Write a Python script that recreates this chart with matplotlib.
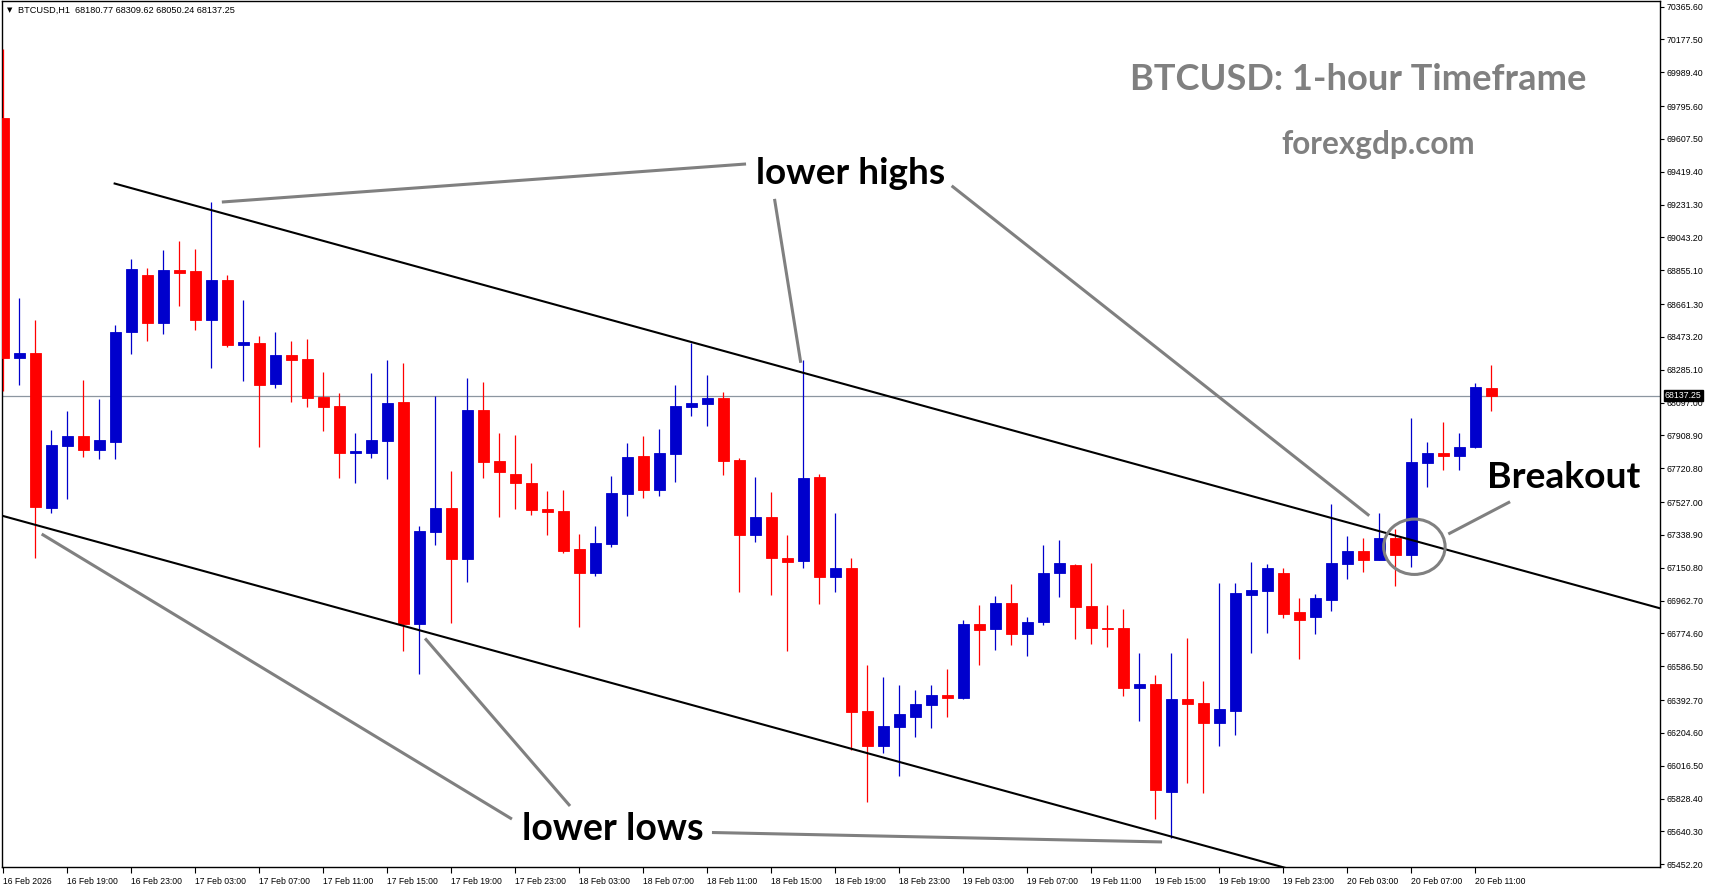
import matplotlib
matplotlib.use('Agg')
import matplotlib.pyplot as plt
import matplotlib.transforms as mtransforms
from matplotlib.patches import Ellipse

# hourly BTCUSD bars, 16 Feb 15:00 .. 20 Feb 12:00
opens = [69727, 68354, 68381, 67495, 67850, 67905, 67827, 67873, 68501, 68828,
         68555, 68856, 68851, 68572, 68799, 68429, 68438, 68205, 68369, 68346,
         68129, 68077, 67810, 67810, 67879, 68100, 66830, 67357, 67493, 67203,
         68054, 67762, 67688, 67636, 67487, 67476, 67258, 67122, 67289, 67575,
         67791, 67598, 67804, 68073, 68091, 68123, 67768, 67340, 67441, 67206,
         67191, 67670, 67099, 67149, 66330, 66129, 66240, 66297, 66366, 66422,
         66406, 66828, 66802, 66949, 66773, 66842, 67123, 67167, 66932, 66807,
         66807, 66464, 66485, 65868, 66399, 66376, 66263, 66332, 66996, 67019,
         67120, 66897, 66870, 66968, 67174, 67247, 67197, 67321, 67226, 67753,
         67808, 67793, 67842, 68180.77]
highs = [70123, 68696, 68570, 67940, 68049, 68226, 68119, 68541, 68919, 68868,
         68971, 69023, 68977, 69246, 68828, 68685, 68478, 68501, 68450, 68461,
         68272, 68152, 67922, 68266, 68341, 68324, 67390, 68136, 67705, 68236,
         68217, 67923, 67911, 67751, 67590, 67596, 67344, 67390, 67676, 67865,
         67905, 67946, 68198, 68436, 68255, 68158, 67779, 67670, 67585, 67338,
         68341, 67686, 67466, 67205, 66593, 66525, 66479, 66450, 66479, 66571,
         66851, 66937, 66989, 67058, 66868, 67281, 67310, 67175, 67178, 66937,
         66914, 66662, 66536, 66662, 66748, 66502, 67063, 67063, 67184, 67172,
         67149, 66977, 67002, 67516, 67333, 67321, 67464, 67373, 68009, 67871,
         67986, 67923, 68209, 68309.62]
lows = [68165, 68199, 67208, 67462, 67546, 67783, 67772, 67772, 68377, 68452,
        68492, 68652, 68515, 68297, 68417, 68222, 67844, 68182, 68102, 68073,
        67936, 67667, 67638, 67781, 67661, 66675, 66543, 67283, 66836, 67071,
        67667, 67443, 67487, 67453, 67340, 67237, 66813, 67105, 67271, 67449,
        67552, 67564, 67644, 68022, 67965, 67684, 67013, 67300, 66996, 66675,
        67151, 66945, 67013, 66106, 65810, 66091, 65959, 66183, 66234, 66297,
        66399, 66595, 66681, 66710, 66647, 66825, 66985, 66744, 66716, 66699,
        66418, 66275, 65713, 65600, 65919, 65862, 66131, 66194, 66664, 66779,
        66865, 66626, 66773, 66905, 67088, 67128, 67197, 67048, 67157, 67615,
        67713, 67713, 67837, 68050.24]
closes = [68354, 68381, 67500, 67854, 67905, 67827, 67882, 68501, 68862, 68555,
          68856, 68841, 68572, 68799, 68429, 68444, 68199, 68369, 68341, 68125,
          68073, 67810, 67819, 67882, 68094, 66830, 67361, 67493, 67203, 68054,
          67758, 67701, 67638, 67481, 67472, 67248, 67122, 67292, 67579, 67785,
          67598, 67808, 68077, 68094, 68123, 67764, 67340, 67441, 67208, 67185,
          67665, 67099, 67149, 66326, 66129, 66244, 66313, 66370, 66422, 66406,
          66828, 66796, 66949, 66773, 66840, 67121, 67178, 66928, 66807, 66801,
          66464, 66485, 65879, 66399, 66372, 66263, 66341, 67006, 67023, 67149,
          66888, 66853, 66977, 67180, 67247, 67197, 67321, 67226, 67757, 67808,
          67793, 67842, 68186, 68137.25]

date_label_bars = [0, 4, 8, 12, 16, 20, 24, 28, 32, 36, 40, 44, 48, 52, 56, 60,
                   64, 68, 72, 76, 80, 84, 88, 92]
date_labels = ['16 Feb 2026', '16 Feb 19:00', '16 Feb 23:00', '17 Feb 03:00',
               '17 Feb 07:00', '17 Feb 11:00', '17 Feb 15:00', '17 Feb 19:00',
               '17 Feb 23:00', '18 Feb 03:00', '18 Feb 07:00', '18 Feb 11:00',
               '18 Feb 15:00', '18 Feb 19:00', '18 Feb 23:00', '19 Feb 03:00',
               '19 Feb 07:00', '19 Feb 11:00', '19 Feb 15:00', '19 Feb 19:00',
               '19 Feb 23:00', '20 Feb 03:00', '20 Feb 07:00', '20 Feb 11:00']

price_ticks = [70365.60, 70177.50, 69989.40, 69795.60, 69607.50, 69419.40,
               69231.30, 69043.20, 68855.10, 68661.30, 68473.20, 68285.10,
               68097.00, 67908.90, 67720.80, 67527.00, 67338.90, 67150.80,
               66962.70, 66774.60, 66586.50, 66392.70, 66204.60, 66016.50,
               65828.40, 65640.30, 65452.20]
last_price = 68137.25
header = 'BTCUSD,H1  68180.77 68309.62 68050.24 68137.25'

# channel lines (bar index, price)
upper_channel = ([6.96, 103.6], [69352, 66917])
lower_channel = ([0.0, 103.6], [67447, 64841])

# grey pointer lines for the annotations
pointer_lines = [
    ([13.66, 46.42], [69246, 69464]),
    ([48.2, 49.84], [69264, 68325]),
    ([59.27, 85.37], [69339, 67449]),
    ([2.4, 31.79], [67344, 65711]),
    ([26.36, 35.42], [66746, 65786]),
    ([44.29, 72.42], [65634, 65580]),
    ([90.31, 94.17], [67344, 67529]),
]

W, H = 1713, 888
fig = plt.figure(figsize=(W / 100, H / 100), dpi=100)
ax = fig.add_axes([2 / W, (H - 867) / H, 1658 / W, 866 / H])

bull = '#0000cc'
bear = '#ff0000'
grey = '#808080'

n = len(opens)
xs = list(range(n))
cols = [bull if c >= o else bear for o, c in zip(opens, closes)]
ax.vlines(xs, lows, highs, colors=cols, linewidth=0.9, zorder=3)
bottoms = [min(o, c) for o, c in zip(opens, closes)]
heights = [abs(c - o) for o, c in zip(opens, closes)]
ax.bar(xs, heights, bottom=bottoms, width=0.67, color=cols,
       edgecolor=cols, linewidth=0.6, zorder=4)

ax.axhline(last_price, color='#8c96a0', linewidth=0.9, zorder=2)

ax.plot(*upper_channel, color='black', linewidth=1.5, zorder=5)
ax.plot(*lower_channel, color='black', linewidth=1.5, zorder=5)

for px, py in pointer_lines:
    ax.plot(px, py, color=grey, linewidth=2.2, solid_capstyle='butt', zorder=6)

ax.add_patch(Ellipse((88.19, 67271), width=3.84, height=317, fill=False,
                     edgecolor=grey, linewidth=2.2, zorder=6))

tfont = 'Lato'
ax.text(52.98, 69411, 'lower highs', fontsize=26.6, fontweight='bold',
        family=tfont, ha='center', va='center', zorder=7)
ax.text(38.1, 65653, 'lower lows', fontsize=27, fontweight='bold',
        family=tfont, ha='center', va='center', zorder=7)
ax.text(97.5, 67670, 'Breakout', fontsize=26.8, fontweight='bold',
        family=tfont, ha='center', va='center', zorder=7)
ax.text(84.67, 69950, 'BTCUSD: 1-hour Timeframe', fontsize=26.1,
        fontweight='bold', family=tfont, color='#808080',
        ha='center', va='center', zorder=7)
ax.text(85.9, 69576, 'forexgdp.com', fontsize=22.7, fontweight='bold',
        family=tfont, color='#808080', ha='center', va='center', zorder=7)

ax.set_xlim(-0.08, 103.54)
ax.set_ylim(65436.4, 70397.7)

for s in ax.spines.values():
    s.set_color('black')
    s.set_linewidth(1)

ax.yaxis.tick_right()
ax.set_yticks(price_ticks)
ax.set_yticklabels(['%.2f' % v for v in price_ticks], family='Liberation Sans',
                   fontsize=6.3)
ax.tick_params(axis='y', length=3, width=0.8, pad=2)

ax.set_xticks(date_label_bars)
ax.set_xticklabels(date_labels, family='Liberation Sans', fontsize=6.2,
                   ha='left')
ax.tick_params(axis='x', length=4, width=0.8, pad=3)
offset = mtransforms.ScaledTranslation(-0.5 / 72, 0, fig.dpi_scale_trans)
for lbl in ax.get_xticklabels():
    lbl.set_transform(lbl.get_transform() + offset)

# current price box on the price scale
trans = mtransforms.blended_transform_factory(ax.transAxes, ax.transData)
ax.text(1.003, last_price, '%.2f' % last_price, transform=trans,
        family='Liberation Sans', fontsize=6.3, color='white',
        ha='left', va='center', zorder=10, clip_on=False,
        bbox=dict(boxstyle='square,pad=0.15', fc='black', ec='black'))

fig.text(7 / W, 1 - 10.5 / H, '\u25bc', fontsize=5, family='DejaVu Sans',
         ha='left', va='center')
fig.text(18 / W, 1 - 10.5 / H, header, fontsize=6.6, family='Liberation Sans',
         ha='left', va='center')

fig.savefig('out.png', dpi=100, facecolor='white')
